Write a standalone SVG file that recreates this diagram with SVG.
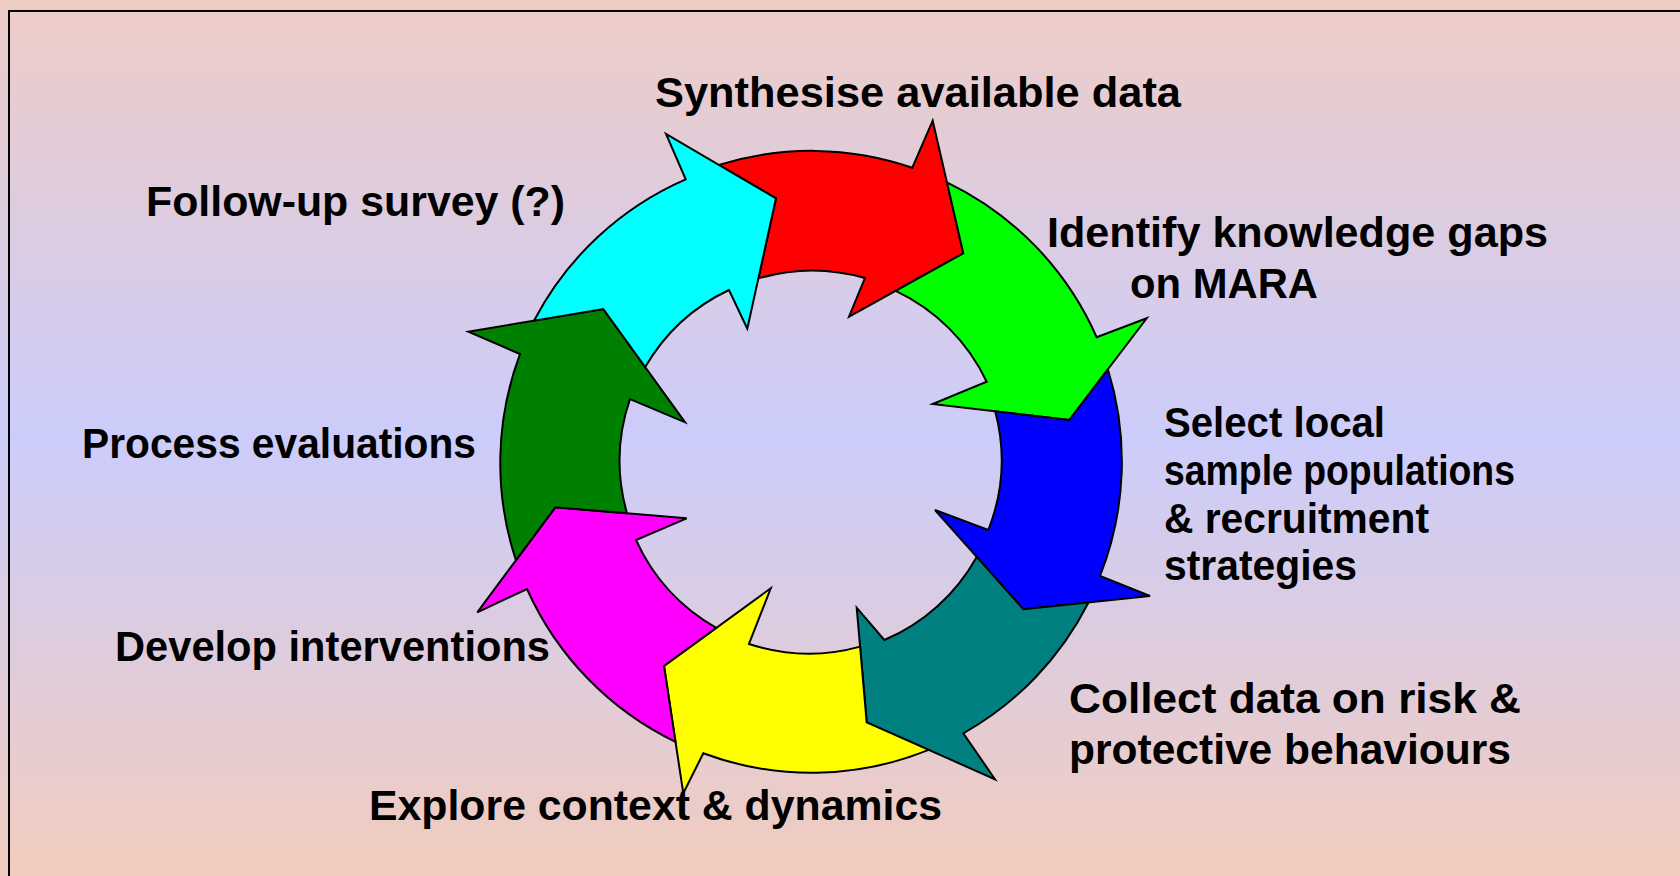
<svg xmlns="http://www.w3.org/2000/svg" width="1680" height="876" viewBox="0 0 1680 876">
  <defs>
    <linearGradient id="bg" x1="0" y1="0" x2="0" y2="1">
      <stop offset="0" stop-color="#EECCC6"/>
      <stop offset="0.5" stop-color="#CCCCFB"/>
      <stop offset="1" stop-color="#F2CCBE"/>
    </linearGradient>
  </defs>
  <style>
    .arrow { stroke: #000; stroke-width: 2; stroke-linejoin: miter; }
    .lbl { font-family: "Liberation Sans", Arial, sans-serif; font-weight: bold; font-size: 42px; fill: #000; }
  </style>
  <rect x="0" y="0" width="1680" height="876" fill="url(#bg)"/>
  <rect x="9" y="11" width="1700" height="900" fill="none" stroke="#000" stroke-width="2"/>

  <g id="connectors">
    <path id="arrow-red" class="arrow" fill="#FF0000" d="M718.9,164.9 A311,311 0 0 1 912.3,167.7 L932.7,120.7 L963.3,253.3 L849,316.7 L865,278 A191,191 0 0 0 758.4,278.4 L776,198.3 Z"/>
    <path id="arrow-green" class="arrow" fill="#00FF00" d="M946.9,182.3 A311,311 0 0 1 1096.7,337.3 L1146.7,318.3 L1069.3,420 L932.7,404 L986.7,381.7 A191,191 0 0 0 895.7,290.8 L963.3,253.3 Z"/>
    <path id="arrow-blue" class="arrow" fill="#0000FF" d="M1107.9,369.3 A311,311 0 0 1 1100,576 L1150,596 L1023.3,609.3 L935,510 L988.3,530 A191,191 0 0 0 995.2,411.3 L1069.3,420 Z"/>
    <path id="arrow-teal" class="arrow" fill="#008080" d="M1088.5,602.5 A311,311 0 0 1 963.3,733.3 L995,779.3 L866.7,722.3 L856.7,607.7 L884.3,640 A191,191 0 0 0 976.7,556.9 L1023.3,609.3 Z"/>
    <path id="arrow-yellow" class="arrow" fill="#FFFF00" d="M928.7,749.9 A311,311 0 0 1 703.3,753.3 L683.3,793.3 L664,666 L770.7,588.3 L749,644 A191,191 0 0 0 860.1,646.6 L866.7,722.3 Z"/>
    <path id="arrow-magenta" class="arrow" fill="#FF00FF" d="M675.5,741.9 A311,311 0 0 1 527,589 L477.3,612.3 L555.3,507.3 L686.7,518.3 L636,540 A191,191 0 0 0 716.3,627.9 L664,666 Z"/>
    <path id="arrow-darkgreen" class="arrow" fill="#008000" d="M515.9,560.3 A311,311 0 0 1 520,354 L468.3,331.7 L603.3,309 L685,422.3 L630,399 A191,191 0 0 0 627,513.3 L555.3,507.3 Z"/>
    <path id="arrow-cyan" class="arrow" fill="#00FFFF" d="M534,320.7 A311,311 0 0 1 685.7,179.3 L666,134 L776,198.3 L747.3,328.7 L729,290 A191,191 0 0 0 645.2,367.1 L603.3,309 Z"/>
  </g>

  <g id="node-synthesise">
    <text class="lbl" x="655" y="107" textLength="526" lengthAdjust="spacingAndGlyphs">Synthesise available data</text>
  </g>
  <g id="node-identify">
    <text class="lbl" x="1047" y="247" textLength="501" lengthAdjust="spacingAndGlyphs">Identify knowledge gaps</text>
    <text class="lbl" x="1130" y="298" textLength="188" lengthAdjust="spacingAndGlyphs">on MARA</text>
  </g>
  <g id="node-select">
    <text class="lbl" x="1164" y="437" textLength="221" lengthAdjust="spacingAndGlyphs">Select local</text>
    <text class="lbl" x="1164" y="485" textLength="351" lengthAdjust="spacingAndGlyphs">sample populations</text>
    <text class="lbl" x="1164" y="533" textLength="265" lengthAdjust="spacingAndGlyphs">&amp; recruitment</text>
    <text class="lbl" x="1164" y="580" textLength="193" lengthAdjust="spacingAndGlyphs">strategies</text>
  </g>
  <g id="node-collect">
    <text class="lbl" x="1069" y="713" textLength="452" lengthAdjust="spacingAndGlyphs">Collect data on risk &amp;</text>
    <text class="lbl" x="1069" y="764" textLength="442" lengthAdjust="spacingAndGlyphs">protective behaviours</text>
  </g>
  <g id="node-explore">
    <text class="lbl" x="369" y="820" textLength="573" lengthAdjust="spacingAndGlyphs">Explore context &amp; dynamics</text>
  </g>
  <g id="node-develop">
    <text class="lbl" x="115" y="661" textLength="435" lengthAdjust="spacingAndGlyphs">Develop interventions</text>
  </g>
  <g id="node-process">
    <text class="lbl" x="82" y="458" textLength="394" lengthAdjust="spacingAndGlyphs">Process evaluations</text>
  </g>
  <g id="node-followup">
    <text class="lbl" x="146" y="216" textLength="419" lengthAdjust="spacingAndGlyphs">Follow-up survey (?)</text>
  </g>
</svg>
